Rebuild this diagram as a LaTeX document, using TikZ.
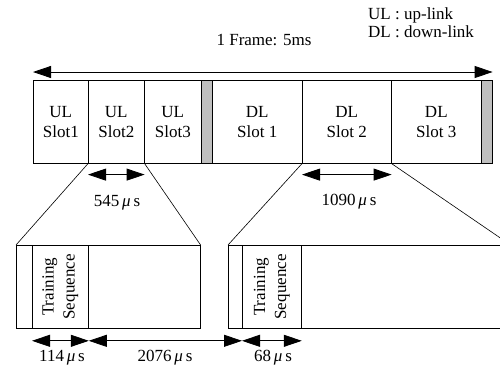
\documentclass[tikz,border=0pt]{standalone}
\usepackage{fontspec}
\setmainfont{Liberation Serif}
\usetikzlibrary{arrows.meta,calc}
\begin{document}
\begin{tikzpicture}[x=1pt,y=-1pt,
  box/.style={draw, line width=0.6pt, inner sep=0pt, anchor=north west, minimum height=83pt},
  lbl/.style={font=\fontsize{17}{20}\selectfont, align=center, inner sep=0pt},
  dim/.style={{Triangle[length=18pt,width=12pt]}-{Triangle[length=18pt,width=12pt]}, line width=0.8pt},
  guardbar/.style={box, fill=black!25},
  tsbox/.style={draw, line width=0.8pt, inner sep=0pt, anchor=north west, minimum height=83pt},
  tstext/.style={font=\fontsize{17}{21}\selectfont, align=center, inner sep=0pt, rotate=90},
  thin/.style={line width=0.6pt}
]
\useasboundingbox (0,0) rectangle (500,368);
\clip (0,0) rectangle (500,368);

% legend and title
\node[lbl, anchor=west, font=\fontsize{17}{18}\selectfont, align=left] (legend) at (368,23) {UL : up-link\\DL : down-link};
\node[lbl] (title) at (264,40) {1 Frame: 5ms};

% frame slots
\node[box, minimum width=55pt] (ul1) at (33,80) {};
\node[box, minimum width=56pt] (ul2) at (88,80) {};
\node[box, minimum width=57pt] (ul3) at (144,80) {};
\node[guardbar, minimum width=11pt] (g1) at (201,80) {};
\node[box, minimum width=90pt] (dl1) at (212,80) {};
\node[box, minimum width=89pt] (dl2) at (302,80) {};
\node[box, minimum width=90pt] (dl3) at (391,80) {};
\node[guardbar, minimum width=11pt] (g2) at (481,80) {};

\node[lbl] (tul1) at (ul1.center) {UL\\Slot1};
\node[lbl] (tul2) at (ul2.center) {UL\\Slot2};
\node[lbl] (tul3) at (ul3.center) {UL\\Slot3};
\node[lbl] (tdl1) at (dl1.center) {DL\\Slot 1};
\node[lbl] (tdl2) at (dl2.center) {DL\\Slot 2};
\node[lbl] (tdl3) at (dl3.center) {DL\\Slot 3};

% frame arrow
\coordinate (fl) at ($(ul1.north west)+(0,-8)$);
\coordinate (fr) at ($(g2.north east)+(0,-8)$);
\draw[dim] (fl) -- (fr);

% lower boxes
\node[box, minimum width=184pt] (lbox) at (16,245) {};
\node[tsbox, minimum width=56pt] (lts) at (32,245) {};
\node[tstext] (ltst) at (lts.center) {Training\\Sequence};
\node[box, minimum width=282pt] (rbox) at (228,245) {};
\node[tsbox, minimum width=59pt] (rts) at (242,245) {};
\node[tstext] (rtst) at (rts.center) {Training\\Sequence};

% zoom lines
\draw[thin] (ul2.south west) -- (lbox.north west);
\draw[thin] (ul2.south east) -- (lbox.north east);
\draw[thin] (dl2.south west) -- (rbox.north west);
\draw[thin] (dl2.south east) -- (rbox.north east);

% slot duration arrows
\draw[dim] ($(ul2.south west)+(0,11)$) -- ($(ul2.south east)+(0,11)$);
\node[lbl] (l545) at (117,203) {545\,\textit{μ}\,s};
\draw[dim] ($(dl2.south west)+(0,11)$) -- ($(dl2.south east)+(0,11)$);
\node[lbl] (l1090) at (349,202) {1090\,\textit{μ}\,s};

% lower arrows
\coordinate (a1) at ($(lts.south west)+(0,12)$);
\coordinate (a2) at ($(lts.south east)+(0,12)$);
\coordinate (a3) at ($(rts.south west)+(0,12)$);
\coordinate (a4) at ($(rts.south east)+(0,12)$);
\draw[dim] (a1) -- (a2);
\draw[dim] (a2) -- (a3);
\draw[dim] (a3) -- (a4);
\node[lbl] (l114) at (62,358) {114\,\textit{μ}\,s};
\node[lbl] (l2076) at (165,358) {2076\,\textit{μ}\,s};
\node[lbl] (l68) at (273,358) {68\,\textit{μ}\,s};
\end{tikzpicture}
\end{document}
